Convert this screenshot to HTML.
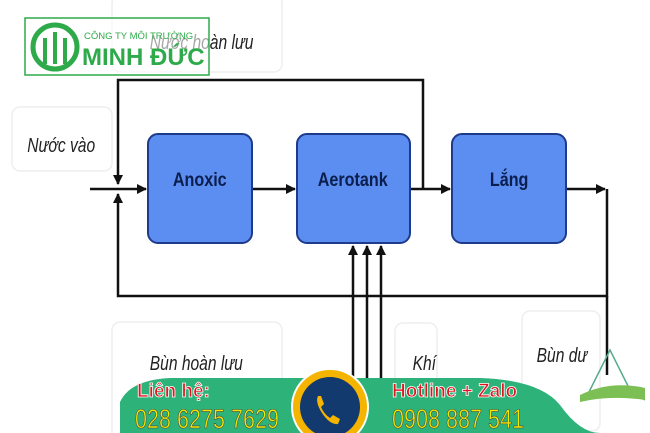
<!DOCTYPE html>
<html><head><meta charset="utf-8"><style>
body{margin:0;background:#fff;}
svg{display:block}
text{font-family:"Liberation Sans",sans-serif}
</style></head><body>
<svg width="650" height="433" viewBox="0 0 650 433">
<defs>
<marker id="a" markerWidth="10" markerHeight="10" refX="9" refY="5" orient="auto" markerUnits="userSpaceOnUse"><path d="M0,0L10,5L0,10z" fill="#111"/></marker>
</defs>
<g fill="#fff" stroke="#eee" stroke-width="1.5">
<rect x="112" y="-5" width="170" height="77" rx="8"/>
<rect x="12" y="107" width="100" height="64" rx="8"/>
<rect x="112" y="322" width="170" height="120" rx="8"/>
<rect x="395" y="323" width="42" height="120" rx="8"/>
<rect x="522" y="311" width="78" height="120" rx="8"/>
</g>
<g font-style="italic" fill="#222" font-size="20" transform="scale(0.78,1)">
<text x="192" y="49">Nước hoàn lưu</text>
<text x="35" y="152">Nước vào</text>
<text x="192" y="370">Bùn hoàn lưu</text>
<text x="529" y="370">Khí</text>
<text x="688" y="362">Bùn dư</text>
</g>
<g stroke="#111" stroke-width="2.5" fill="none">
<line x1="90" y1="189" x2="146" y2="189" marker-end="url(#a)"/>
<line x1="252" y1="189" x2="295" y2="189" marker-end="url(#a)"/>
<line x1="410" y1="189" x2="450" y2="189" marker-end="url(#a)"/>
<line x1="566" y1="189" x2="605" y2="189" marker-end="url(#a)"/>
<polyline points="423,189 423,80 118,80 118,184" marker-end="url(#a)"/>
<polyline points="607,189 607,296 118,296 118,194" marker-end="url(#a)"/>
<line x1="607" y1="296" x2="607" y2="375"/>
<line x1="353" y1="378" x2="353" y2="246" marker-end="url(#a)"/>
<line x1="367" y1="378" x2="367" y2="246" marker-end="url(#a)"/>
<line x1="381" y1="378" x2="381" y2="246" marker-end="url(#a)"/>
</g>
<g fill="#5b8ef0" stroke="#1e3a8a" stroke-width="2">
<rect x="148" y="134" width="104" height="109" rx="10"/>
<rect x="297" y="134" width="113" height="109" rx="10"/>
<rect x="452" y="134" width="114" height="109" rx="10"/>
</g>
<g fill="#0b1e4d" font-size="19" font-weight="bold" text-anchor="middle" transform="scale(0.85,1)">
<text x="235" y="186">Anoxic</text>
<text x="415" y="186">Aerotank</text>
<text x="599" y="186">Lắng</text>
</g>
<rect x="25" y="18" width="184" height="57" fill="rgba(255,255,255,0.6)" stroke="#2eaa4a" stroke-width="1.5"/>
<circle cx="55" cy="47" r="22" fill="none" stroke="#2eaa4a" stroke-width="5"/>
<g stroke="#2eaa4a" stroke-width="4" fill="none"><path d="M45,64V38M55,64V32M65,64V38"/></g>
<text x="84" y="39" font-size="9.5" fill="#2eaa4a">CÔNG TY MÔI TRƯỜNG</text>
<text x="82" y="65" font-size="24" font-weight="bold" fill="#2eaa4a">MINH ĐỨC</text>
<path d="M120,433 L120,402 Q130,380 170,378 L480,378 Q540,380 560,405 Q580,433 600,433 Z" fill="#2db37a"/>
<text x="137" y="397" font-size="19" font-weight="bold" fill="#e0141e" stroke="#fff" stroke-width="0.8">Liên hệ:</text>
<text x="135" y="428" font-size="27" fill="#f4e800" stroke="#444" stroke-width="0.6" transform="translate(135,0) scale(0.8,1) translate(-135,0)">028 6275 7629</text>
<text x="392" y="397" font-size="19" font-weight="bold" fill="#e0141e" stroke="#fff" stroke-width="0.8">Hotline + Zalo</text>
<text x="392" y="428" font-size="27" fill="#f4e800" stroke="#444" stroke-width="0.6" transform="translate(392,0) scale(0.8,1) translate(-392,0)">0908 887 541</text>
<circle cx="330" cy="407" r="38" fill="#f5b400" stroke="#fff" stroke-width="2"/>
<circle cx="330" cy="407" r="30" fill="#123a6e"/>
<path d="M318,396 q-3,6 4,17 q8,12 16,11 l2,-5 l-7,-4 l-3,3 q-6,-4 -9,-11 l3,-3 l-3,-8z" fill="#f5b400"/>
<path d="M585,400 L610,350 L630,390 L645,400" fill="none" stroke="#5a8" stroke-width="1.5"/>
<path d="M580,395 Q610,380 645,388 L645,400 Q610,395 580,402z" fill="#7bbf55"/>
</svg>
</body></html>
